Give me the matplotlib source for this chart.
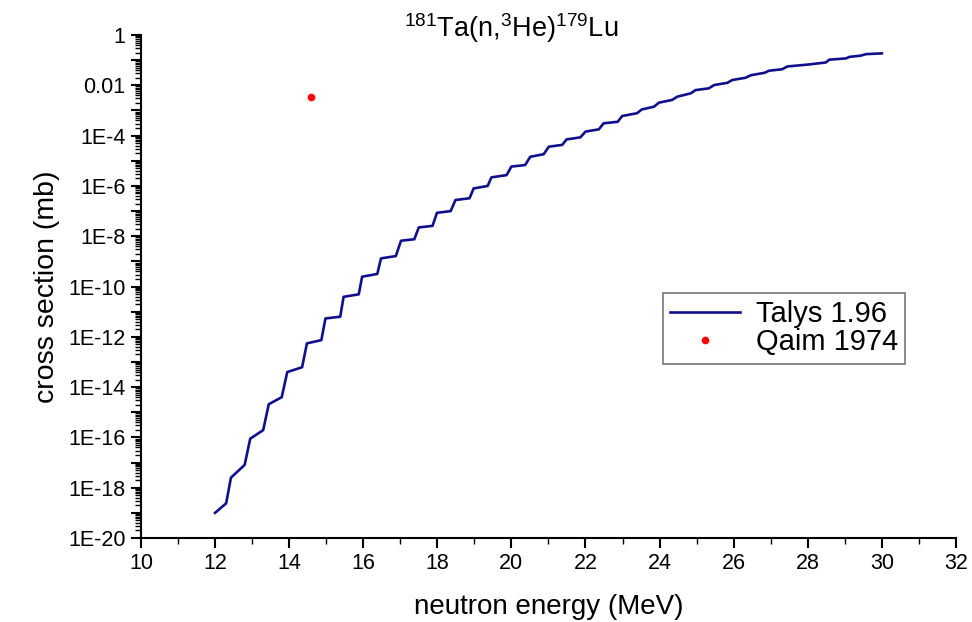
import numpy as np
import matplotlib
matplotlib.use("Agg")
import matplotlib.pyplot as plt
from matplotlib.ticker import LogLocator, MultipleLocator, FuncFormatter, NullFormatter

plt.rcParams['font.family'] = ['Liberation Sans', 'DejaVu Sans']

# TALYS 1.96 excitation function (energy in MeV, log10 of cross section in mb)
talys_energy = [12.0, 12.3, 12.43, 12.8, 12.95, 13.3, 13.45, 13.8, 13.95,
                14.35, 14.48, 14.87, 14.98, 15.38, 15.47, 15.88, 15.97,
                16.38, 16.48, 16.88, 17.02, 17.38, 17.5, 17.87, 17.99,
                18.36, 18.49, 18.87, 18.98, 19.36, 19.46, 19.87, 20.0,
                20.37, 20.51, 20.87, 21.01, 21.37, 21.49, 21.86, 22.0,
                22.36, 22.49, 22.87, 22.99, 23.39, 23.52, 23.85, 23.98,
                24.34, 24.48, 24.84, 24.97, 25.33, 25.47, 25.83, 25.96,
                26.32, 26.46, 26.84, 26.95, 27.31, 27.45, 28.04, 28.49,
                28.58, 29.03, 29.12, 29.43, 29.57, 30.0]
talys_log_xs = [-19.0, -18.62, -17.6, -17.09, -16.05, -15.71, -14.68, -14.40, -13.4,
                -13.21, -12.26, -12.13, -11.27, -11.2, -10.41, -10.31, -9.61,
                -9.5, -8.88, -8.79, -8.18, -8.12, -7.65, -7.59, -7.07,
                -7.0, -6.56, -6.49, -6.10, -6.0, -5.66, -5.57, -5.23,
                -5.17, -4.84, -4.74, -4.44, -4.37, -4.15, -4.07, -3.84,
                -3.75, -3.51, -3.45, -3.22, -3.11, -2.96, -2.85, -2.69,
                -2.58, -2.45, -2.32, -2.19, -2.12, -1.99, -1.90, -1.79,
                -1.70, -1.60, -1.50, -1.42, -1.36, -1.25, -1.17, -1.09,
                -0.98, -0.93, -0.87, -0.82, -0.76, -0.73]

# Qaim 1974 measurement
qaim_energy = [14.6]
qaim_xs = [3.5e-3]

talys_xs = 10.0 ** np.array(talys_log_xs)

fig = plt.figure(figsize=(9.72, 6.22), dpi=100)
ax = fig.add_axes([0.145, 0.135, 0.8385, 0.8087])

ax.plot(talys_energy, talys_xs, color='#10108c', lw=1.9, label='Talys 1.96',
        solid_joinstyle='round')
ax.plot(qaim_energy, qaim_xs, 'o', color='#ff0000', ms=5.5, mec='none',
        label='Qaim 1974')

ax.set_yscale('log')
ax.set_xlim(10, 32)
ax.set_ylim(1e-20, 1)


def decade_label(v, pos):
    e = int(round(np.log10(v)))
    if e % 2:
        return ''
    if e == 0:
        return '1'
    if e == -2:
        return '0.01'
    return '1E%d' % e


ax.yaxis.set_major_locator(LogLocator(base=10, numticks=40))
ax.yaxis.set_major_formatter(FuncFormatter(decade_label))
ax.yaxis.set_minor_locator(LogLocator(base=10, subs=np.arange(2, 10), numticks=200))
ax.yaxis.set_minor_formatter(NullFormatter())
ax.xaxis.set_major_locator(MultipleLocator(2))
ax.xaxis.set_minor_locator(MultipleLocator(1))

for s in ['top', 'right']:
    ax.spines[s].set_visible(False)
for s in ['left', 'bottom']:
    ax.spines[s].set_linewidth(1.5)

ax.tick_params(which='major', direction='out', length=7, width=1.5,
               labelsize=15.5, pad=4)
ax.tick_params(which='minor', direction='out', length=4, width=1.0)

ax.set_xlabel('neutron energy (MeV)', fontsize=20, labelpad=14)
ax.set_ylabel('cross section (mb)', fontsize=20.5, labelpad=6)

fig.text(0.526, 0.94, r'$\mathregular{^{181}Ta(n{,}^{3}He)^{179}Lu}$',
         ha='center', va='baseline', fontsize=19.5)

leg = ax.legend(loc='upper left', bbox_to_anchor=(0.64, 0.487), fontsize=21,
                frameon=True, fancybox=False, edgecolor='#555555',
                handlelength=2.4, numpoints=1, borderpad=0.25,
                labelspacing=0.0, handletextpad=0.55, borderaxespad=0)
leg.get_frame().set_linewidth(1.2)

fig.savefig('out.png', dpi=100)
